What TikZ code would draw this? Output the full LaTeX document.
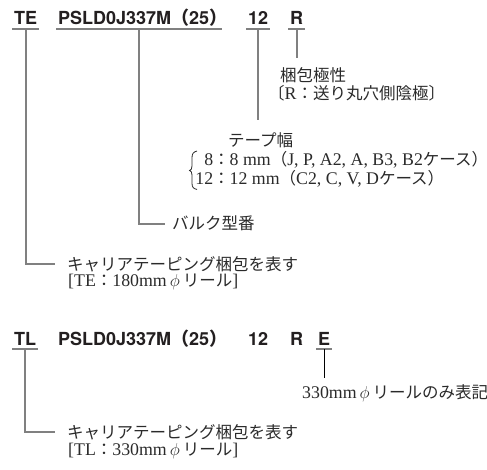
\documentclass[tikz,border=0pt]{standalone}
\usepackage{fontspec}
\setmainfont{Liberation Serif}[Scale=1.08]
\newfontfamily\headfont{TeX Gyre Heros}
\newfontfamily\jp{Noto Sans CJK JP}
\usetikzlibrary{calc}
\definecolor{headc}{HTML}{231F20}
\definecolor{txtc}{HTML}{2A2A2A}
\definecolor{ulc}{HTML}{808080}
\begin{document}
\begin{tikzpicture}[x=1pt,y=-1pt,
  head/.style={font=\headfont\bfseries\fontsize{18}{18}\selectfont, text=headc, anchor=base west, inner xsep=2pt, inner ysep=4pt, text depth=0pt, text height=13pt},
  lbl/.style={font=\fontsize{16.5}{16.5}\selectfont, text=txtc, anchor=base west, inner sep=0pt},
  ul/.style={draw=ulc, line width=2pt},
  lead/.style={draw=ulc, line width=1.6pt},
  thinlead/.style={draw=black, line width=1pt}]
\useasboundingbox (0,0) rectangle (487,470);

% ---------- block 1 ----------
\node[head] (te) at (12,25) {TE};
\node[head] (pn) at (56,25) {PSLD0J337M{\jp （}25{\jp ）}};
\node[head] (tw) at (246,25) {12};
\node[head] (pol) at (288,25) {R};

\draw[ul] (te.south west) -- (te.south east);
\draw[ul] (pn.south west) -- ([xshift=-7pt]pn.south east);
\draw[ul] (tw.south west) -- (tw.south east);
\draw[ul] (pol.south west) -- (pol.south east);
\coordinate (pnmid) at ($(pn.south west)!0.5!([xshift=-7pt]pn.south east)$);

% polarity
\node[lbl] (polt) at (280,82) {\jp 梱包極性};
\node[lbl] (polv) at (268,100) {{\jp 〔}R{\jp ：送り丸穴側陰極〕}};
\coordinate (polend) at ([yshift=-29pt]pol.south);
\draw[lead] (pol.south) -- (polend);

% tape width
\coordinate (twend) at ([yshift=-91pt]tw.south);
\draw[lead] (tw.south) -- (twend);
\node[lbl] (tapew) at (228,147) {\jp テープ幅};
\node[lbl] (t8) at (196,166) {\makebox[17pt][r]{8}{\jp ：}8 mm{\jp （}J, P, A2, A, B3, B2{\jp ケース）}};
\node[lbl] (t12) at (196,185) {\makebox[17pt][r]{12}{\jp ：}12 mm{\jp （}C2, C, V, D{\jp ケース）}};
\draw[draw=txtc, line width=0.8pt]
  (197,151) .. controls (193,152) and (192,154) .. (192,158) -- (192,166)
  .. controls (192,169) and (191,170) .. (189.5,170.5)
  .. controls (191,171) and (192,172) .. (192,175) -- (192,183)
  .. controls (192,187) and (193,188.5) .. (197,189.5);

% bulk part number
\node[lbl] (bulk) at (172,230) {\jp バルク型番};
\coordinate (bulkend) at ([xshift=-7pt]bulk.west);
\draw[lead] (pnmid) |- (bulkend);

% carrier taping
\node[lbl] (carr1) at (67,270) {\jp キャリアテーピング梱包を表す};
\node[lbl] (te1) at (68,287) {[TE{\jp ：}180mm\,$\phi$\,{\jp リール}]};
\coordinate (carr1end) at ([xshift=-12pt]carr1.west);
\draw[lead] (te.south) |- (carr1end);

% ---------- block 2 ----------
\node[head] (tl) at (12,345) {TL};
\node[head] (pn2) at (56,345) {PSLD0J337M{\jp （}25{\jp ）}};
\node[head] (tw2) at (246,345) {12};
\node[head] (pol2) at (288,345) {R};
\node[head] (ee) at (316,345) {E};
\draw[ul] (tl.south west) -- (tl.south east);
\draw[ul] (ee.south west) -- (ee.south east);

\node[lbl] (reel) at (302,398) {330mm\,$\phi$\,{\jp リールのみ表記}};
\coordinate (eend) at ([yshift=-29pt]ee.south);
\draw[thinlead] (ee.south) -- (eend);

\node[lbl] (carr2) at (67,438) {\jp キャリアテーピング梱包を表す};
\node[lbl] (tl1) at (68,455) {[TL{\jp ：}330mm\,$\phi$\,{\jp リール}]};
\coordinate (carr2end) at ([xshift=-12pt]carr2.west);
\draw[lead] (tl.south) |- (carr2end);
\end{tikzpicture}
\end{document}
